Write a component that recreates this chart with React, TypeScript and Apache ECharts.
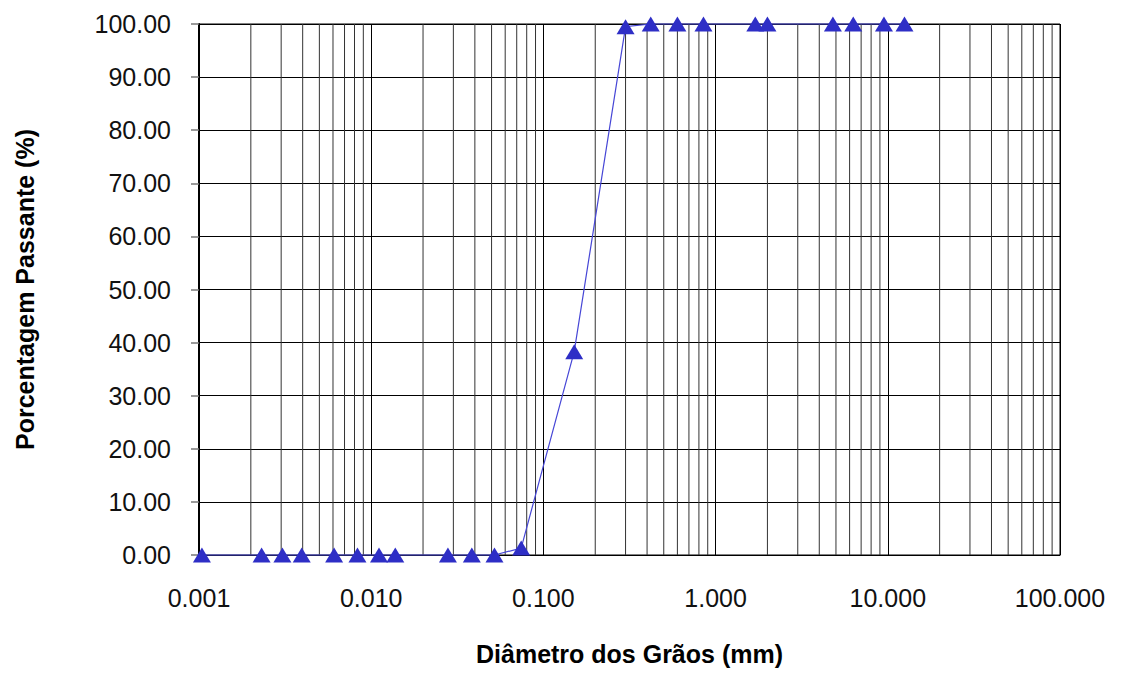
import React, { useEffect, useRef } from 'react';
import * as echarts from 'echarts';

// Grain diameter (mm) and percentage passing (%)
const diameters = [
  0.00104, 0.00231, 0.00305, 0.00395, 0.00609, 0.00832, 0.0111, 0.0138,
  0.0279, 0.0384, 0.052, 0.0743, 0.151, 0.3, 0.42, 0.6, 0.85, 1.7, 2.0,
  4.8, 6.3, 9.5, 12.5,
];
const passing = [
  0, 0, 0, 0, 0, 0, 0, 0,
  0, 0, 0, 1.3, 38.3, 99.5, 100, 100, 100, 100, 100,
  100, 100, 100, 100,
];

// Minor log grid lines
const decades = [0.001, 0.01, 0.1, 1, 10];
const multipliers = [2, 3, 4, 5, 6, 7, 8, 9];

const xMin = 0.001;
const xMax = 100;
const yMin = 0;
const yMax = 100;
const yInterval = 10;

const FONT = "'Liberation Sans', Arial, Helvetica, sans-serif";

export default function App() {
  const ref = useRef<HTMLDivElement>(null);

  useEffect(() => {
    document.body.style.margin = '0';
    if (!ref.current) return;
    const chart = echarts.init(ref.current, undefined, { renderer: 'svg' });

    const minorValues: number[] = [];
    decades.forEach((d) => multipliers.forEach((m) => minorValues.push(d * m)));

    const option: any = {
      animation: false,
      backgroundColor: '#ffffff',
      grid: {
        left: 199,
        right: 70,
        top: 24,
        bottom: 118,
        show: true,
        borderColor: '#000',
        borderWidth: 1,
        backgroundColor: 'transparent',
      },
      xAxis: {
        type: 'log',
        logBase: 10,
        min: xMin,
        max: xMax,
        name: 'Diâmetro dos Grãos (mm)',
        nameLocation: 'middle',
        nameGap: 86,
        nameTextStyle: {
          fontFamily: FONT,
          fontSize: 25,
          fontWeight: 'bold',
          color: '#000',
        },
        axisLine: { show: true, lineStyle: { color: '#000', width: 1 } },
        axisTick: { show: false },
        axisLabel: {
          margin: 30,
          fontFamily: FONT,
          fontSize: 25,
          color: '#111',
          formatter: (v: number) => v.toFixed(3),
        },
        splitLine: { show: true, lineStyle: { color: '#000', width: 1 } },
      },
      yAxis: {
        type: 'value',
        min: yMin,
        max: yMax,
        interval: yInterval,
        name: 'Porcentagem Passante (%)',
        nameLocation: 'middle',
        nameRotate: 90,
        nameGap: 162,
        nameTextStyle: {
          fontFamily: FONT,
          fontSize: 25,
          fontWeight: 'bold',
          color: '#000',
        },
        axisLine: { show: true, lineStyle: { color: '#000', width: 2 } },
        axisTick: {
          show: true,
          inside: false,
          length: 8,
          lineStyle: { color: '#777', width: 1.5 },
        },
        axisLabel: {
          margin: 28,
          fontFamily: FONT,
          fontSize: 25,
          color: '#111',
          formatter: (v: number) => v.toFixed(2),
        },
        splitLine: { show: true, lineStyle: { color: '#000', width: 1 } },
      },
      series: [
        {
          type: 'custom',
          z: 1,
          silent: true,
          data: minorValues.map((v) => [v]),
          renderItem: (params: any, api: any) => {
            const v = api.value(0);
            const p0 = api.coord([v, yMin]);
            const p1 = api.coord([v, yMax]);
            return {
              type: 'line',
              shape: { x1: p0[0], y1: p0[1], x2: p1[0], y2: p1[1] },
              style: { stroke: '#333', lineWidth: 1 },
            };
          },
        },
        {
          type: 'line',
          z: 3,
          data: diameters.map((d, i) => [d, passing[i]]),
          symbol: 'triangle',
          symbolSize: [18, 15],
          lineStyle: { color: '#4646d6', width: 1.2 },
          itemStyle: { color: '#2e2ec6' },
          clip: false,
        },
      ],
    };

    chart.setOption(option);
    return () => chart.dispose();
  }, []);

  return <div ref={ref} style={{ width: 1130, height: 673 }} />;
}
